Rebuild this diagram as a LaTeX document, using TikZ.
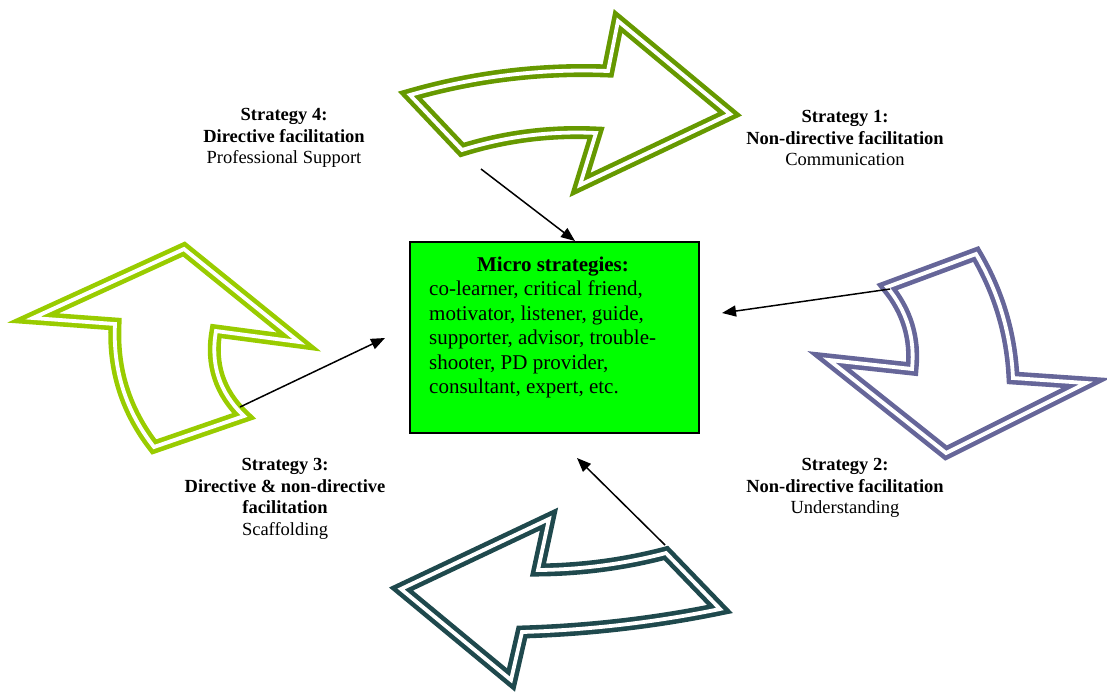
\documentclass[tikz,border=0pt]{standalone}
\usepackage{fontspec}
\setmainfont{Liberation Serif}
\usetikzlibrary{arrows.meta}
\definecolor{olivearrow}{RGB}{102,153,0}
\definecolor{purplearrow}{RGB}{102,102,153}
\definecolor{tealarrow}{RGB}{31,73,77}
\definecolor{limearrow}{RGB}{153,204,0}
\definecolor{boxgreen}{RGB}{0,255,0}
\begin{document}
\begin{tikzpicture}[x=1pt,y=-1pt,
  bigarrow/.style={draw=#1, line width=4.6pt, double=white, double distance=3.8pt, line join=miter, miter limit=12},
  lbl/.style={align=center, inner sep=0pt, font=\fontsize{18.5}{21.6}\selectfont},
  conn/.style={line width=1.5pt, -{Triangle[length=14pt,width=11pt]}},
  microbox/.style={draw, line width=2pt, fill=boxgreen, inner sep=0pt, minimum width=289pt, minimum height=191pt, anchor=north west}
]
\useasboundingbox (0,0) rectangle (1107,691);

% big curved arrows
\draw[bigarrow=olivearrow] (410,95) .. controls (474.7,76.4) and (540.7,68.4) .. (608,71) -- (618,21) -- (730,114) -- (580,185) -- (596,133) .. controls (550.3,130.8) and (505.7,136.4) .. (462,150) -- cycle;

\draw[bigarrow=purplearrow] (887,287) -- (976,254) .. controls (998.6,292.3) and (1010.9,333.6) .. (1013,378) -- (1086,383) -- (946,453) -- (829,360) -- (912,369) .. controls (915.2,338.2) and (906.8,310.8) .. cycle;

\draw[bigarrow=tealarrow] (401,589) -- (549,519) -- (538,570) .. controls (581.4,569.6) and (624,564) .. (666,553) -- (720,609) .. controls (654.8,622.4) and (588.8,630) .. (522,632) -- (511,680) -- cycle;

\draw[bigarrow=limearrow] (33,318) -- (184,249) -- (299,342) -- (216,331) .. controls (210.1,364.3) and (219.5,392.7) .. (244,416) -- (154,447) .. controls (125.7,410.8) and (112.7,369.8) .. (115,324) -- cycle;

% central box
\node[microbox] (micro) at (409,241) {};
\node[inner sep=0pt, font=\fontsize{21}{24.4}\selectfont\bfseries, anchor=base] (microtitle) at (553,271.7) {Micro strategies:};
\node[inner sep=0pt, font=\fontsize{21}{24.4}\selectfont, align=left, anchor=north west] (microbody) at (429,281) {co-learner, critical friend,\\motivator, listener, guide,\\supporter, advisor, trouble-\\shooter, PD provider,\\consultant, expert, etc.};

% labels
\node[lbl] (s4) at (284,138) {\textbf{Strategy 4:}\\\textbf{Directive facilitation}\\Professional Support};
\node[lbl] (s1) at (845,138) {\textbf{Strategy 1:}\\\textbf{Non-directive facilitation}\\Communication};
\node[lbl] (s3) at (285,499) {\textbf{Strategy 3:}\\\textbf{Directive \& non-directive}\\\textbf{facilitation}\\Scaffolding};
\node[lbl] (s2) at (845,488) {\textbf{Strategy 2:}\\\textbf{Non-directive facilitation}\\Understanding};

% connectors
\coordinate (c4s) at (481,169);
\coordinate (c4e) at (575,241);
\coordinate (c1s) at (890,289);
\coordinate (c1e) at (722,313);
\coordinate (c2s) at (665,545);
\coordinate (c2e) at (577,458);
\coordinate (c3s) at (240,407);
\coordinate (c3e) at (385,338);
\draw[conn] (c4s) -- (c4e);
\draw[conn] (c1s) -- (c1e);
\draw[conn] (c2s) -- (c2e);
\draw[conn] (c3s) -- (c3e);
\end{tikzpicture}
\end{document}
